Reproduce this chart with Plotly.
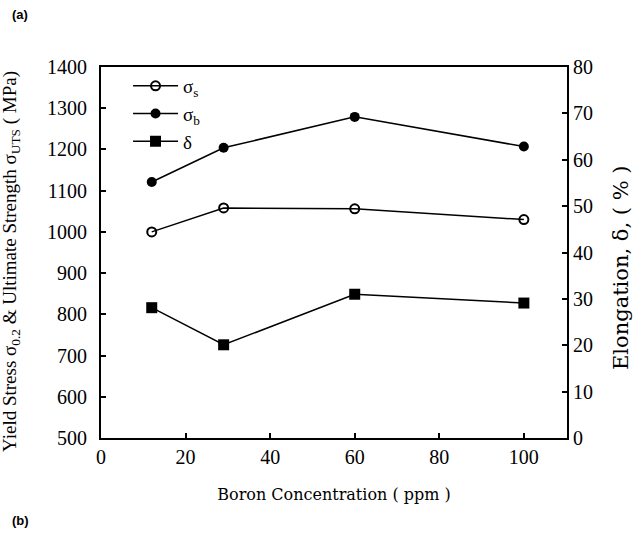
import plotly.graph_objects as go

boron_ppm = [12, 29, 60, 100]
sigma_s = [1000, 1058, 1056, 1030]
sigma_b = [1121, 1204, 1279, 1207]
elongation = [28.1, 20.1, 31.0, 29.1]

FONT = "Liberation Serif"
WIDE = "DejaVu Serif"
fig = go.Figure()
fig.add_trace(go.Scatter(x=boron_ppm, y=sigma_s, name="σ<sub>s</sub>", mode="lines+markers",
                         line=dict(color="black", width=1.5),
                         marker=dict(symbol="circle-open", size=9, color="black", line=dict(width=2))))
fig.add_trace(go.Scatter(x=boron_ppm, y=sigma_b, name="σ<sub>b</sub>", mode="lines+markers",
                         line=dict(color="black", width=1.5),
                         marker=dict(symbol="circle", size=10, color="black")))
fig.add_trace(go.Scatter(x=boron_ppm, y=elongation, name="δ", mode="lines+markers", yaxis="y2",
                         line=dict(color="black", width=1.5),
                         marker=dict(symbol="square", size=11, color="black")))

axis_common = dict(showline=True, linecolor="black", linewidth=2, ticks="inside", ticklen=5,
                   tickwidth=2, tickcolor="black", showgrid=False, zeroline=False,
                   tickfont=dict(family=FONT, size=20, color="black"))

fig.update_layout(
    width=636, height=542,
    margin=dict(l=101, r=69, t=67, b=104),
    paper_bgcolor="white", plot_bgcolor="white",
    font=dict(family=FONT, size=15, color="black"),
    showlegend=True,
    legend=dict(x=0.058, y=1.0, xanchor="left", yanchor="top", bgcolor="rgba(0,0,0,0)",
                font=dict(family=FONT, size=19), tracegroupgap=0, itemwidth=45),
    xaxis=dict(range=[0, 110.2], tickvals=[0, 20, 40, 60, 80, 100], mirror=True,
               title=dict(text="Boron Concentration ( ppm )", font=dict(family=WIDE, size=16), standoff=22),
               **axis_common),
    yaxis=dict(range=[500, 1400], dtick=100, ticklabelstandoff=8, **axis_common),
    yaxis2=dict(range=[0, 80], dtick=10, overlaying="y", side="right", **axis_common),
)

# axis titles placed as rotated annotations for exact positioning
fig.add_annotation(text="Yield Stress σ<sub>0.2</sub> & Ultimate Strength σ<sub>UTS</sub> ( MPa)",
                   x=(11 - 101) / 466, y=1 - (262 - 67) / 371, xref="paper", yref="paper",
                   textangle=-90, showarrow=False, xanchor="center", yanchor="middle",
                   font=dict(family=FONT, size=19, color="black"))
fig.add_annotation(text="Elongation, δ, ( % )",
                   x=(621 - 101) / 466, y=1 - (268 - 67) / 371, xref="paper", yref="paper",
                   textangle=-90, showarrow=False, xanchor="center", yanchor="middle",
                   font=dict(family=WIDE, size=21, color="black"))

fig.add_annotation(text="<b>(a)</b>", x=-91/466, y=1 + (67-14)/371, xref="paper", yref="paper",
                   xanchor="left", yanchor="middle", showarrow=False,
                   font=dict(family="Liberation Sans", size=13, color="black"))
fig.add_annotation(text="<b>(b)</b>", x=-91/466, y=-(520-438)/371, xref="paper", yref="paper",
                   xanchor="left", yanchor="middle", showarrow=False,
                   font=dict(family="Liberation Sans", size=13, color="black"))

fig.write_html("out.html")
